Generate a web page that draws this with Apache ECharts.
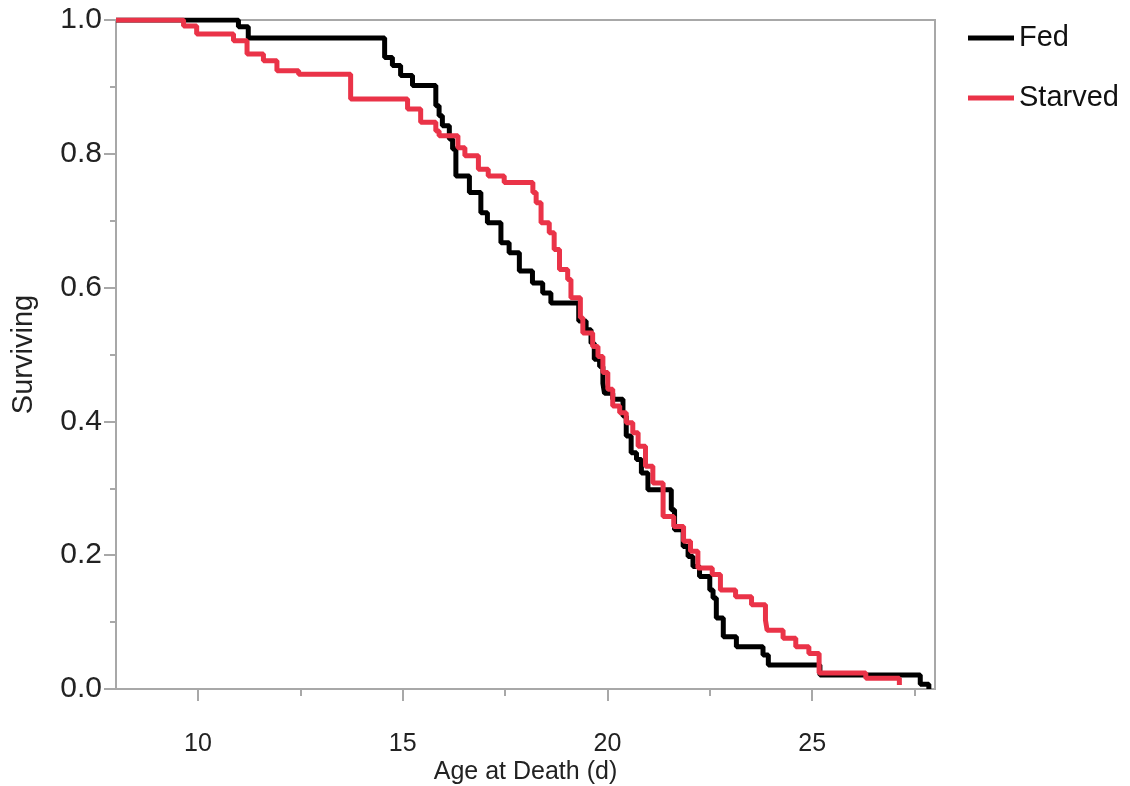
<!DOCTYPE html>
<html>
<head>
<meta charset="utf-8">
<title>Survival: Fed vs Starved</title>
<script src="https://cdn.jsdelivr.net/npm/echarts@6.0.0/dist/echarts.min.js"></script>
<style>
  html, body { margin: 0; padding: 0; background: #fff; }
  #chart { width: 1130px; height: 786px; }
</style>
</head>
<body>
<div id="chart"></div>
<script>
// Kaplan-Meier steps: age at death (d) -> surviving fraction
const fedAge = [8, 10.99, 11.23, 14.56, 14.75, 14.95, 15.24, 15.81, 15.89, 15.97, 16.14, 16.22, 16.30,
  16.63, 16.91, 17.07, 17.40, 17.60, 17.85, 18.17, 18.42, 18.62, 19.30, 19.48, 19.60, 19.68, 19.81,
  19.89, 19.93, 20.13, 20.38, 20.46, 20.58, 20.71, 20.83, 20.99, 21.56, 21.64, 21.85, 21.97, 22.09,
  22.25, 22.50, 22.58, 22.66, 22.83, 23.15, 23.80, 23.93, 25.19, 27.64, 27.85]
const fedSurv = [1, 0.99, 0.973, 0.944, 0.932, 0.917, 0.902, 0.872, 0.857, 0.842, 0.822, 0.807, 0.767,
  0.742, 0.712, 0.697, 0.667, 0.652, 0.625, 0.607, 0.592, 0.577, 0.550, 0.537, 0.517, 0.493, 0.482,
  0.457, 0.442, 0.433, 0.408, 0.378, 0.353, 0.343, 0.323, 0.298, 0.268, 0.238, 0.213, 0.198, 0.183,
  0.168, 0.148, 0.136, 0.106, 0.078, 0.063, 0.051, 0.036, 0.021, 0.007, 0.0]

const starvedAge = [8, 9.65, 9.97, 10.87, 11.20, 11.60, 11.93, 12.46, 13.73, 15.12, 15.44, 15.81, 15.89,
  16.35, 16.52, 16.85, 17.09, 17.48, 18.18, 18.26, 18.38, 18.58, 18.70, 18.83, 19.03, 19.11, 19.34,
  19.40, 19.64, 19.77, 19.89, 20.01, 20.13, 20.30, 20.46, 20.62, 20.75, 20.93, 21.11, 21.36, 21.62,
  21.86, 22.03, 22.21, 22.56, 22.76, 23.13, 23.52, 23.86, 23.90, 24.29, 24.60, 24.92, 25.17, 26.31, 27.13]
const starvedSurv = [1, 0.991, 0.979, 0.969, 0.949, 0.939, 0.924, 0.919, 0.882, 0.867, 0.847, 0.834, 0.827,
  0.809, 0.797, 0.777, 0.767, 0.757, 0.742, 0.727, 0.697, 0.682, 0.657, 0.627, 0.612, 0.585, 0.555,
  0.532, 0.512, 0.497, 0.473, 0.448, 0.423, 0.413, 0.398, 0.383, 0.363, 0.333, 0.308, 0.258, 0.243,
  0.221, 0.206, 0.181, 0.171, 0.148, 0.138, 0.126, 0.103, 0.088, 0.076, 0.063, 0.053, 0.024, 0.016, 0.006]

const xMajorTicks = [10, 15, 20, 25]
const xMinorTicks = [12.5, 17.5, 22.5, 27.5]

const gray = '#a8a8a8'
const red = '#ea3348'

const pairs = (xs, ys) => xs.map((x, i) => [x, ys[i]])

const chart = echarts.init(document.getElementById('chart'), null, { renderer: 'canvas' })

chart.setOption({
  animation: false,
  backgroundColor: '#fff',
  grid: {
    left: 116, top: 20, width: 819, height: 669,
    outerBoundsMode: 'none',
    show: true, borderColor: gray, borderWidth: 2, backgroundColor: 'transparent',
  },
  legend: {
    orient: 'vertical',
    left: 963,
    top: 16,
    icon: 'rect',
    itemWidth: 46,
    itemHeight: 5,
    itemGap: 26,
    textStyle: { fontFamily: 'Liberation Sans', fontSize: 29, color: '#111', lineHeight: 34 },
    data: ['Fed', 'Starved'],
  },
  xAxis: [
    {
      type: 'value',
      min: 8,
      max: 28,
      name: 'Age at Death (d)',
      nameLocation: 'middle',
      nameGap: 71,
      nameMoveOverlap: false,
      nameTextStyle: { fontFamily: 'Liberation Sans', fontSize: 25, color: '#222' },
      axisLine: { lineStyle: { color: gray, width: 2 } },
      axisTick: { customValues: xMajorTicks, length: 12, lineStyle: { color: gray, width: 2 } },
      axisLabel: {
        customValues: xMajorTicks, margin: 43,
        fontFamily: 'Liberation Sans', fontSize: 25, color: '#222',
      },
      splitLine: { show: false },
    },
    {
      type: 'value',
      min: 8,
      max: 28,
      position: 'bottom',
      axisLine: { show: false },
      axisTick: { customValues: xMinorTicks, length: 7, lineStyle: { color: gray, width: 2 } },
      axisLabel: { show: false },
      splitLine: { show: false },
    },
  ],
  yAxis: {
    type: 'value',
    min: 0,
    max: 1,
    interval: 0.2,
    name: 'Surviving',
    nameLocation: 'middle',
    nameGap: 78,
    nameMoveOverlap: false,
    nameTextStyle: { fontFamily: 'Liberation Sans', fontSize: 29, color: '#222' },
    axisLine: { show: true, lineStyle: { color: gray, width: 2 } },
    axisTick: { show: true, length: 12, lineStyle: { color: gray, width: 2 } },
    minorTick: { show: true, splitNumber: 2, length: 6, lineStyle: { color: gray, width: 2 } },
    axisLabel: {
      margin: 14, fontFamily: 'Liberation Sans', fontSize: 30, color: '#222',
      formatter: v => v.toFixed(1),
    },
    splitLine: { show: false },
    minorSplitLine: { show: false },
  },
  series: [
    {
      name: 'Fed',
      type: 'line',
      step: 'end',
      data: pairs(fedAge, fedSurv),
      showSymbol: false,
      lineStyle: { color: '#000', width: 5 },
      itemStyle: { color: '#000' },
    },
    {
      name: 'Starved',
      type: 'line',
      step: 'end',
      data: pairs(starvedAge, starvedSurv),
      showSymbol: false,
      lineStyle: { color: red, width: 5 },
      itemStyle: { color: red },
    },
  ],
})
</script>
</body>
</html>
